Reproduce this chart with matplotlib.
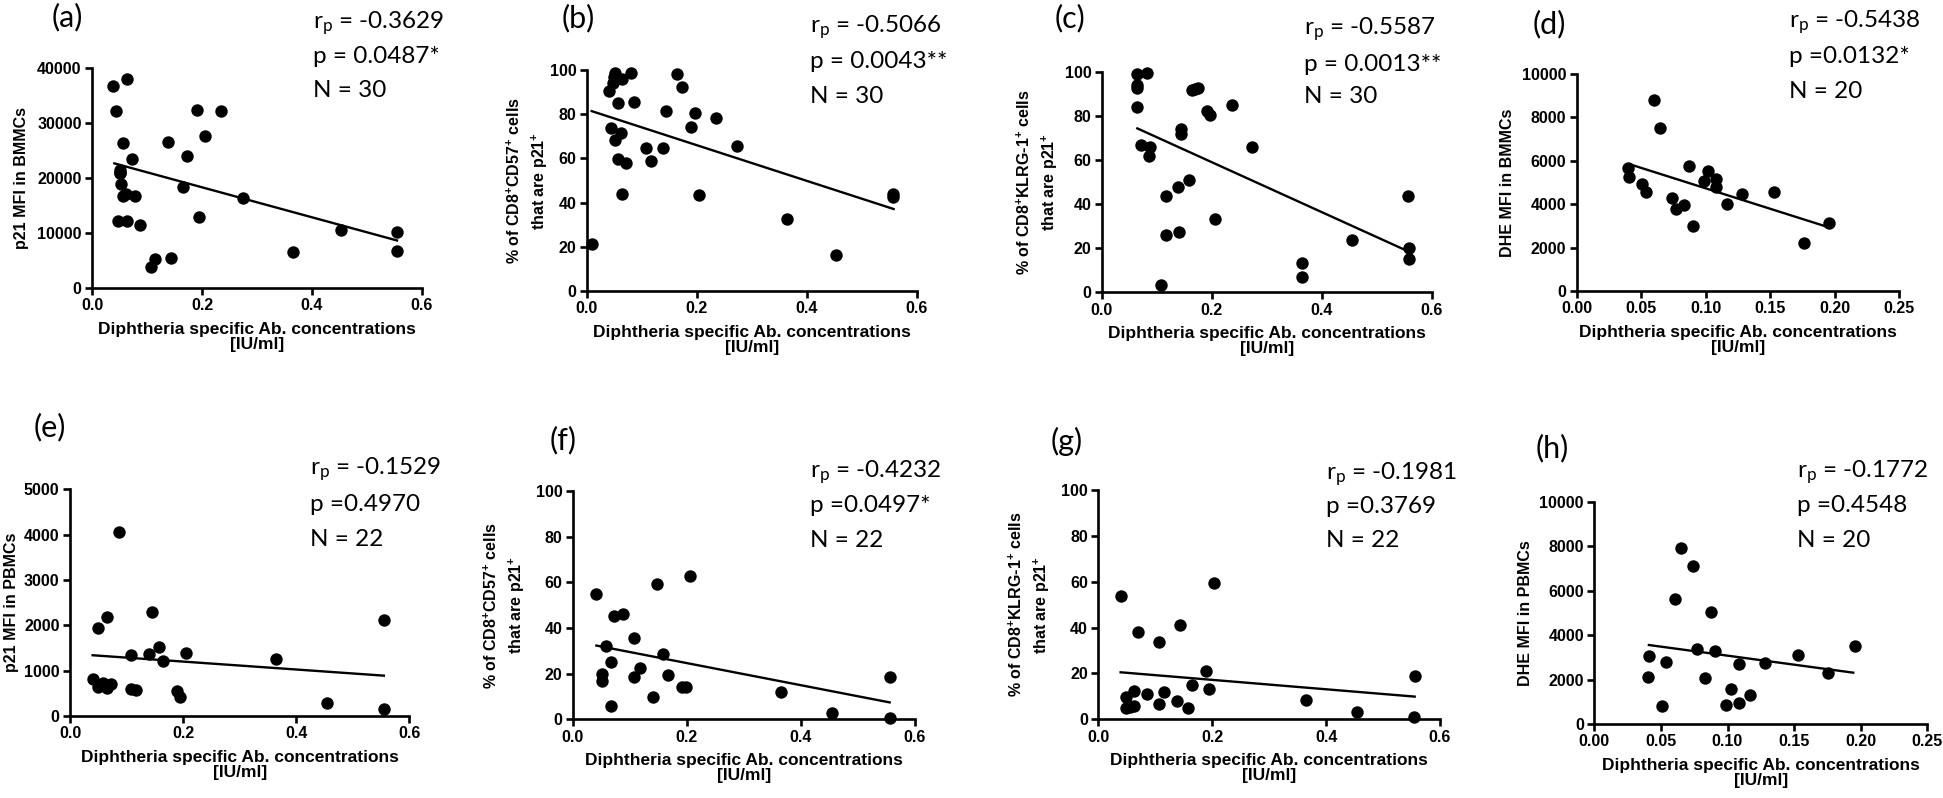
import matplotlib
matplotlib.use("Agg")
import matplotlib.pyplot as plt
from matplotlib.ticker import FixedLocator, FormatStrFormatter

plt.rcParams['mathtext.fontset'] = 'custom'
plt.rcParams['mathtext.rm'] = 'Liberation Sans:bold'
plt.rcParams['mathtext.bf'] = 'Liberation Sans:bold'
plt.rcParams['mathtext.sf'] = 'Lato'
plt.rcParams['mathtext.default'] = 'rm'

# ---------------- data ----------------
a_x = [0.039, 0.064, 0.044, 0.056, 0.072, 0.050, 0.050, 0.052, 0.056, 0.062, 0.079, 0.048, 0.064, 0.087,
       0.107, 0.115, 0.144, 0.139, 0.173, 0.165, 0.190, 0.234, 0.205, 0.195, 0.274, 0.453, 0.365, 0.554, 0.554, 0.050]
a_y = [36800, 38000, 32150, 26280, 23500, 21450, 20850, 18850, 16800, 17040, 16800, 12270, 12270, 11420,
       3750, 5260, 5500, 26530, 23930, 18370, 32450, 32270, 27550, 12870, 16370, 10510, 6530, 10210, 6770, 21000]
a_fit_x = [0.0406, 0.5545]
a_fit_y = [22660, 8640]

b_x = [0.010, 0.040, 0.0515, 0.050, 0.048, 0.065, 0.081, 0.056, 0.086, 0.044, 0.062, 0.0515, 0.056, 0.071, 0.064,
       0.107, 0.116, 0.138, 0.144, 0.165, 0.173, 0.190, 0.196, 0.205, 0.235, 0.273, 0.364, 0.454, 0.556, 0.556]
b_y = [21.1, 90.5, 98.8, 96.7, 94.3, 95.9, 98.5, 85.1, 85.5, 73.8, 71.6, 68.3, 59.7, 58.1, 43.9,
       64.9, 58.8, 64.6, 81.3, 98.2, 92.2, 74.2, 80.4, 43.6, 78.4, 65.5, 32.4, 16.3, 43.7, 42.4]
b_fit_x = [0.009, 0.558]
b_fit_y = [81.4, 37.1]

c_x = [0.0648, 0.0818, 0.0648, 0.0648, 0.0648, 0.0715, 0.0879, 0.0867, 0.117, 0.117, 0.107, 0.139, 0.140, 0.144,
       0.144, 0.158, 0.165, 0.175, 0.191, 0.196, 0.206, 0.236, 0.273, 0.365, 0.365, 0.455, 0.556, 0.558, 0.558, 0.170]
c_y = [98.9, 99.4, 94.0, 92.4, 84.0, 66.9, 65.7, 61.9, 43.5, 25.8, 3.3, 47.6, 27.2, 73.9,
       71.9, 50.9, 91.7, 92.7, 82.3, 80.2, 33.2, 84.9, 65.7, 13.4, 6.8, 23.7, 43.7, 20.2, 15.3, 92.2]
c_fit_x = [0.0648, 0.556]
c_fit_y = [74.3, 18.7]

d_x = [0.0400, 0.0408, 0.0506, 0.0537, 0.0602, 0.0646, 0.0739, 0.0767, 0.0829, 0.0868,
       0.0899, 0.0984, 0.1018, 0.1077, 0.1077, 0.1167, 0.1278, 0.1526, 0.1759, 0.1955]
d_y = [5684, 5269, 4931, 4547, 8802, 7527, 4301, 3779, 3978, 5776,
       2980, 5084, 5530, 5161, 4808, 3994, 4470, 4562, 2227, 3149]
d_fit_x = [0.0413, 0.1937]
d_fit_y = [5837, 2965]

e_x = [0.040, 0.050, 0.050, 0.0589, 0.0648, 0.0648, 0.0725, 0.086, 0.108, 0.108, 0.1167,
       0.1397, 0.1444, 0.157, 0.165, 0.190, 0.195, 0.206, 0.364, 0.454, 0.555, 0.555]
e_y = [816, 1934, 647, 735, 2191, 610, 699, 4066, 1346, 588, 574,
       1368, 2294, 1529, 1221, 551, 426, 1382, 1257, 279, 2118, 154]
e_fit_x = [0.040, 0.555]
e_fit_y = [1340, 890]

f_x = [0.0415, 0.058, 0.052, 0.052, 0.0666, 0.0672, 0.0724, 0.0888, 0.108, 0.108, 0.118,
       0.140, 0.147, 0.158, 0.1665, 0.191, 0.198, 0.2056, 0.3645, 0.454, 0.5556, 0.5556]
f_y = [55.0, 32.3, 19.7, 16.8, 25.1, 6.0, 45.3, 46.0, 35.5, 18.7, 22.3,
       9.8, 59.4, 28.6, 19.4, 14.0, 14.0, 62.6, 12.1, 2.9, 18.7, 0.7]
f_fit_x = [0.0415, 0.5556]
f_fit_y = [32.3, 7.4]

g_x = [0.0392, 0.0486, 0.0486, 0.0632, 0.0626, 0.0702, 0.086, 0.106, 0.1065, 0.1153, 0.138,
       0.1428, 0.157, 0.1645, 0.189, 0.1943, 0.204, 0.364, 0.4537, 0.5555, 0.554, 0.0560]
g_y = [53.8, 9.6, 4.8, 12.5, 6.0, 38.2, 11.0, 33.6, 6.7, 11.8, 8.1,
       41.3, 5.1, 14.8, 21.2, 13.1, 59.4, 8.4, 3.1, 18.9, 0.9, 5.5]
g_fit_x = [0.0392, 0.5555]
g_fit_y = [20.5, 9.9]

h_x = [0.0410, 0.0400, 0.0541, 0.0511, 0.0603, 0.0653, 0.0741, 0.0771, 0.0833, 0.0873,
       0.0903, 0.0991, 0.1024, 0.1084, 0.1084, 0.1171, 0.1281, 0.1529, 0.1757, 0.1959]
h_y = [3058, 2099, 2789, 825, 5607, 7916, 7106, 3358, 2054, 5022,
       3298, 855, 1574, 960, 2714, 1304, 2729, 3103, 2294, 3508]
h_fit_x = [0.041, 0.1944]
h_fit_y = [3553, 2309]

panel_letters = ['(a)', '(b)', '(c)', '(d)', '(e)', '(f)', '(g)', '(h)']
y_labels = ['p21 MFI in BMMCs',
            '% of CD8$^{+}$CD57$^{+}$ cells\nthat are p21$^{+}$',
            '% of CD8$^{+}$KLRG-1$^{+}$ cells\nthat are p21$^{+}$',
            'DHE MFI in BMMCs',
            'p21 MFI in PBMCs',
            '% of CD8$^{+}$CD57$^{+}$ cells\nthat are p21$^{+}$',
            '% of CD8$^{+}$KLRG-1$^{+}$ cells\nthat are p21$^{+}$',
            'DHE MFI in PBMCs']
x_label = 'Diphtheria specific Ab. concentrations\n[IU/ml]'
r_texts = ['-0.3629', '-0.5066', '-0.5587', '-0.5438', '-0.1529', '-0.4232', '-0.1981', '-0.1772']
p_texts = ['p = 0.0487*', 'p = 0.0043**', 'p = 0.0013**', 'p =0.0132*',
           'p =0.4970', 'p =0.0497*', 'p =0.3769', 'p =0.4548']
n_texts = ['N = 30', 'N = 30', 'N = 30', 'N = 20', 'N = 22', 'N = 22', 'N = 22', 'N = 20']
x_ticks_long = [0.0, 0.2, 0.4, 0.6]
x_ticks_short = [0.0, 0.05, 0.10, 0.15, 0.20, 0.25]
y_ticks_a = [0, 10000, 20000, 30000, 40000]
y_ticks_pct = [0, 20, 40, 60, 80, 100]
y_ticks_dhe = [0, 2000, 4000, 6000, 8000, 10000]
y_ticks_e = [0, 1000, 2000, 3000, 4000, 5000]

# ---------------- layout ----------------
W, H = 1943, 798
fig = plt.figure(figsize=(W / 100, H / 100), dpi=100)
fig.patch.set_facecolor('white')

# pixel boxes: left, right, top, bottom
boxes = [(92, 422, 68, 288), (586.7, 916.7, 70, 291), (1101.7, 1431.7, 71.7, 292.3), (1576.7, 1899.3, 74, 291),
         (70, 409.3, 489.3, 716), (572.7, 915, 491, 719.3), (1098.3, 1440, 490, 719.3), (1594.3, 1927.3, 501.7, 724)]
ylabel_x = [22, 528, 1038, 1508, 12, 505, 1030, 1525]
letter_pos = [(67, 17), (578, 18), (1070, 18), (1549, 24), (50, 427), (563, 440), (1067, 441), (1552, 448)]
stats_left = [313, 810, 1304, 1789, 310, 810, 1326, 1797]
stats_base = [(29, 63, 97), (33, 68, 103), (35, 71, 103), (28, 63, 98),
              (475, 511, 546), (478, 512, 547), (480, 513, 547), (478, 512, 547)]

xs = [a_x, b_x, c_x, d_x, e_x, f_x, g_x, h_x]
ys = [a_y, b_y, c_y, d_y, e_y, f_y, g_y, h_y]
fxs = [a_fit_x, b_fit_x, c_fit_x, d_fit_x, e_fit_x, f_fit_x, g_fit_x, h_fit_x]
fys = [a_fit_y, b_fit_y, c_fit_y, d_fit_y, e_fit_y, f_fit_y, g_fit_y, h_fit_y]
yticks_all = [y_ticks_a, y_ticks_pct, y_ticks_pct, y_ticks_dhe, y_ticks_e, y_ticks_pct, y_ticks_pct, y_ticks_dhe]
xticks_all = [x_ticks_long, x_ticks_long, x_ticks_long, x_ticks_short,
              x_ticks_long, x_ticks_long, x_ticks_long, x_ticks_short]

stat_font = 'Lato'
stat_size = 17.5

for i in range(8):
    l, r, t, b = boxes[i]
    ax = fig.add_axes([l / W, 1 - b / H, (r - l) / W, (b - t) / H])
    ax.scatter(xs[i], ys[i], s=80, color='black', zorder=3, clip_on=False, linewidths=0)
    ax.plot(fxs[i], fys[i], color='black', lw=1.7, zorder=2)
    xt = xticks_all[i]
    yt = yticks_all[i]
    ax.set_xlim(xt[0], xt[-1])
    ax.set_ylim(yt[0], yt[-1])
    ax.xaxis.set_major_locator(FixedLocator(xt))
    ax.yaxis.set_major_locator(FixedLocator(yt))
    ax.xaxis.set_major_formatter(FormatStrFormatter('%.2f' if len(xt) == 6 else '%.1f'))
    for s in ['top', 'right']:
        ax.spines[s].set_visible(False)
    for s in ['left', 'bottom']:
        ax.spines[s].set_linewidth(1.9)
    ax.tick_params(axis='both', direction='out', length=5, width=1.9, pad=2.5)
    for lab in ax.get_xticklabels() + ax.get_yticklabels():
        lab.set_fontfamily('Liberation Sans')
        lab.set_fontweight('bold')
        lab.set_fontsize(11.5)
    ax.set_ylabel(y_labels[i], fontfamily='Liberation Sans', fontweight='bold', fontsize=11.5,
                  linespacing=1.45, va='center', ha='center')
    ax.yaxis.set_label_coords((ylabel_x[i] - l) / (r - l), 0.5)
    ax.set_xlabel(x_label, fontfamily='Liberation Sans', fontweight='bold', fontsize=12.5,
                  linespacing=1.0, va='top', ha='center')
    ax.xaxis.set_label_coords(0.5, -(34) / (b - t))

    lx, ly = letter_pos[i]
    fig.text(lx / W, 1 - ly / H, panel_letters[i], fontfamily=stat_font, fontsize=22,
             ha='center', va='center')
    sb = stats_base[i]
    sx = stats_left[i] / W
    fig.text(sx, 1 - sb[0] / H, r'r$_\mathsf{p}$ = ' + r_texts[i], fontfamily=stat_font, fontsize=stat_size,
             ha='left', va='baseline')
    fig.text(sx, 1 - sb[1] / H, p_texts[i], fontfamily=stat_font, fontsize=stat_size, ha='left', va='baseline')
    fig.text(sx, 1 - sb[2] / H, n_texts[i], fontfamily=stat_font, fontsize=stat_size, ha='left', va='baseline')

fig.savefig('out.png', dpi=100, facecolor='white')
